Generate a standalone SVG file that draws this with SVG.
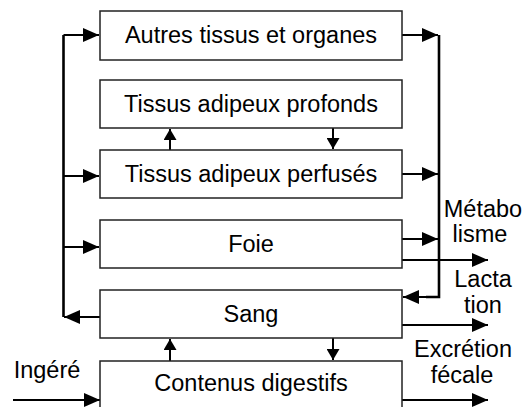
<svg xmlns="http://www.w3.org/2000/svg" width="525" height="407" viewBox="0 0 525 407">
<defs>
<style>
.box{fill:#fff;stroke:#222;stroke-width:1.5}
.t{font-family:"Liberation Sans",Arial,sans-serif;font-size:23.5px;fill:#000;text-anchor:middle}
.c{fill:none;stroke:#000;stroke-width:2}
.v{fill:none;stroke:#000;stroke-width:2.6}
</style>
<marker id="ah" viewBox="0 0 16 14" refX="16" refY="7" markerWidth="16" markerHeight="14" markerUnits="userSpaceOnUse" orient="auto">
<path d="M0,0 L16,7 L0,14 Z" fill="#000"/>
</marker>
<marker id="sh" viewBox="0 0 11 13" refX="11" refY="6.5" markerWidth="11" markerHeight="13" markerUnits="userSpaceOnUse" orient="auto">
<path d="M0,0 L11,6.5 L0,13 Z" fill="#000"/>
</marker>
</defs>
<g id="connectors">
<path class="v" d="M63.5,35 V317"/>
<path class="c" d="M63.5,35 H99" marker-end="url(#ah)"/>
<path class="c" d="M63.5,176 H99" marker-end="url(#ah)"/>
<path class="c" d="M63.5,247 H99" marker-end="url(#ah)"/>
<path class="c" d="M100,317 H64" marker-end="url(#ah)"/>
<path class="v" d="M439,35 V297 H426"/>
<path class="c" d="M439,297 H403" marker-end="url(#ah)"/>
<path class="c" d="M402,35 H438" marker-end="url(#ah)"/>
<path class="c" d="M402,174 H438" marker-end="url(#ah)"/>
<path class="c" d="M402,239 H438" marker-end="url(#ah)"/>
<path class="c" d="M402,260 H488" marker-end="url(#ah)"/>
<path class="c" d="M402,325 H488" marker-end="url(#ah)"/>
<path class="c" d="M402,400 H488" marker-end="url(#ah)"/>
<path class="c" d="M13,400 H100" marker-end="url(#ah)"/>
<path class="c" d="M170,150 V129" marker-end="url(#sh)"/>
<path class="c" d="M333,128 V149" marker-end="url(#sh)"/>
<path class="c" d="M170,361 V339" marker-end="url(#sh)"/>
<path class="c" d="M333,338 V360" marker-end="url(#sh)"/>
</g>
<g id="autres"><rect class="box" x="100" y="11" width="302" height="49"/><text class="t" x="251" y="43">Autres tissus et organes</text></g>
<g id="profonds"><rect class="box" x="100" y="80" width="302" height="48"/><text class="t" x="251" y="112">Tissus adipeux profonds</text></g>
<g id="perfuses"><rect class="box" x="100" y="150" width="302" height="48"/><text class="t" x="251" y="182">Tissus adipeux perfusés</text></g>
<g id="foie"><rect class="box" x="100" y="220" width="302" height="48"/><text class="t" x="251" y="252">Foie</text></g>
<g id="sang"><rect class="box" x="100" y="290" width="302" height="48"/><text class="t" x="251" y="322">Sang</text></g>
<g id="contenus"><rect class="box" x="100" y="361" width="302" height="60"/><text class="t" x="251" y="391">Contenus digestifs</text></g>
<g id="labels">
<text class="t" x="483" y="217">Métabo</text>
<text class="t" x="480" y="242">lisme</text>
<text class="t" x="483" y="287">Lacta</text>
<text class="t" x="483" y="313">tion</text>
<text class="t" x="463" y="357">Excrétion</text>
<text class="t" x="462" y="383">fécale</text>
<text class="t" x="47" y="378">Ingéré</text>
</g>
</svg>
